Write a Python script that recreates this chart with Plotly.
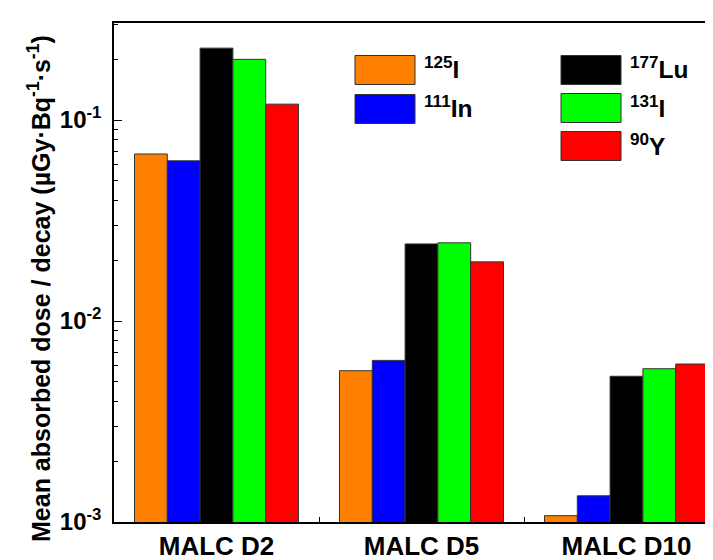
import plotly.graph_objects as go

categories = ["MALC D2", "MALC D5", "MALC D10"]
series_names = ["125I", "111In", "177Lu", "131I", "90Y"]
series_labels = ["<sup>125</sup>I", "<sup>111</sup>In", "<sup>177</sup>Lu", "<sup>131</sup>I", "<sup>90</sup>Y"]
i125 = [0.0678, 0.00566, 0.001075]
in111 = [0.0627, 0.00637, 0.00135]
lu177 = [0.228, 0.0242, 0.00531]
i131 = [0.2005, 0.0245, 0.00579]
y90 = [0.120, 0.0197, 0.00611]
series_values = [i125, in111, lu177, i131, y90]
colors = ["#FF8000", "#0000FF", "#000000", "#00FF00", "#FF0000"]
ytick_vals = [0.001, 0.01, 0.1]
ytick_text = ["10<sup>-3</sup>", "10<sup>-2</sup>", "10<sup>-1</sup>"]

W, H = 713, 560
L, T, B = 106, 15, 514
PW = W - L
PH = B - T
FONT = "Liberation Sans, Arial, sans-serif"

def xp(x):
    return (x - L) / PW

def yp(y):
    return (B - y) / PH

fig = go.Figure()
for name, vals, col in zip(series_names, series_values, colors):
    fig.add_trace(go.Bar(
        x=categories, y=vals, name=name, marker_color=col,
        marker_line_color="#333333", marker_line_width=1, showlegend=False,
    ))

# legend drawn as boxes + labels
legend_pos = [(347, 62), (347, 101), (553, 62), (553, 100), (553, 138)]
shapes = []
annotations = []
for (bx, cy), col, lab in zip(legend_pos, colors, series_labels):
    shapes.append(dict(type="rect", xref="paper", yref="paper",
                       x0=xp(bx), x1=xp(bx + 60), y0=yp(cy + 14.5), y1=yp(cy - 14.5),
                       fillcolor=col, line=dict(color="#333333", width=1)))
    annotations.append(dict(xref="paper", yref="paper", x=xp(bx + 67), y=yp(cy - 2),
                            text=lab, showarrow=False, xanchor="left", yanchor="middle",
                            font=dict(family=FONT, size=24.5, color="black", weight="bold")))

# right-side mirror ticks (axis itself is just outside the picture)
for v in [-1, -2]:
    shapes.append(dict(type="line", xref="paper", yref="y", x0=xp(708), x1=1.0,
                       y0=v, y1=v, line=dict(color="black", width=1.2)))

annotations.append(dict(xref="paper", yref="paper", x=xp(31), y=yp(281),
                        text="Mean absorbed dose / decay (µGy·Bq<sup>-1</sup>·s<sup>-1</sup>)",
                        textangle=-90, showarrow=False, xanchor="center", yanchor="middle",
                        font=dict(family=FONT, size=25, color="black", weight="bold")))

fig.update_layout(
    width=W, height=H,
    margin=dict(l=L, r=0, t=T, b=H - B, pad=0),
    paper_bgcolor="white", plot_bgcolor="white",
    barmode="group", bargap=0.2, bargroupgap=0,
    shapes=shapes, annotations=annotations,
    font=dict(family=FONT, color="black"),
)
fig.update_xaxes(
    type="category", range=[-0.5, -0.5 + PW / 205.0],
    showline=True, linecolor="black", linewidth=1.5, mirror=True,
    ticks="inside", tickson="boundaries", ticklen=5, tickcolor="black",
    showgrid=False, zeroline=False,
    tickfont=dict(family=FONT, size=26, color="black", weight="bold"),
)
fig.update_yaxes(
    type="log", range=[-3, -0.517],
    showline=True, linecolor="black", linewidth=1.5, mirror=False,
    tickmode="array", tickvals=ytick_vals, ticktext=ytick_text,
    ticks="inside", ticklen=8, tickcolor="black", tickwidth=1.2,
    minor=dict(ticks="inside", ticklen=4, tickcolor="black", tickwidth=1, dtick="D1", showgrid=False),
    showgrid=False, zeroline=False, ticklabelstandoff=6,
    tickfont=dict(family=FONT, size=24, color="black", weight="bold"),
)

fig.write_html("out.html")
